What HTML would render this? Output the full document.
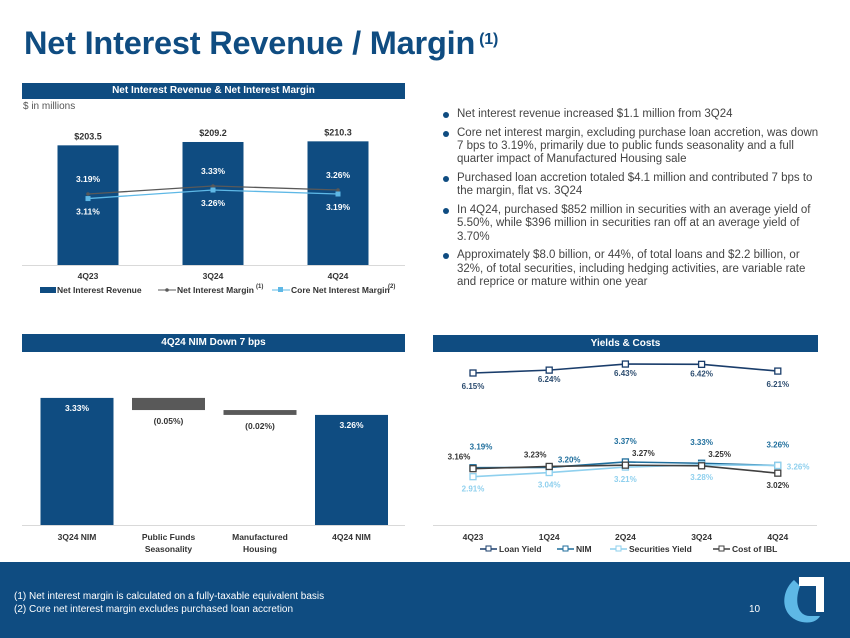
<!DOCTYPE html>
<html><head><meta charset="utf-8"><style>
body{margin:0;width:850px;height:638px;overflow:hidden;background:#fff;font-family:"Liberation Sans",Arial,sans-serif;position:relative}
.title{position:absolute;left:24px;top:25px;font-size:32.5px;font-weight:bold;color:#0f4c81;letter-spacing:-0.2px}
.title sup{font-size:16px;vertical-align:top;position:relative;top:6px;margin-left:4px}
.hdr{position:absolute;background:#0f4c81;color:#fff;font-weight:bold;font-size:10px;text-align:center;line-height:17px}
.bul{position:absolute;left:440px;top:108px;width:384px;font-size:11.5px;color:#444;line-height:13.4px}
.bul div{position:relative;padding-left:17px;margin-bottom:5.2px}
.bul div::before{content:"";position:absolute;left:3px;top:4px;width:6px;height:6px;border-radius:50%;background:#0f4c81}
.foot{position:absolute;left:0;top:562px;width:850px;height:76px;background:#0f4c81}
.fn{position:absolute;left:14px;font-size:10px;color:#fff}
svg text{font-family:"Liberation Sans",sans-serif}
</style></head><body>
<div class="title">Net Interest Revenue / Margin<sup>(1)</sup></div>
<div class="hdr" style="left:22px;top:83px;width:383px;height:16px;line-height:16px">Net Interest Revenue &amp; Net Interest Margin</div>
<div style="position:absolute;left:23px;top:101px;font-size:10px;color:#555">$ in millions</div>
<svg id="c1" style="position:absolute;left:0;top:0" width="420" height="300"></svg>

<div class="bul">
<div>Net interest revenue increased $1.1 million from 3Q24</div>
<div>Core net interest margin, excluding purchase loan accretion, was down 7 bps to 3.19%, primarily due to public funds seasonality and a full quarter impact of Manufactured Housing sale</div>
<div>Purchased loan accretion totaled $4.1 million and contributed 7 bps to the margin, flat vs. 3Q24</div>
<div>In 4Q24, purchased $852 million in securities with an average yield of 5.50%, while $396 million in securities ran off at an average yield of 3.70%</div>
<div>Approximately $8.0 billion, or 44%, of total loans and $2.2 billion, or 32%, of total securities, including hedging activities, are variable rate and reprice or mature within one year</div>
</div>

<div class="hdr" style="left:22px;top:334px;width:383px;height:18px">4Q24 NIM Down 7 bps</div>
<div class="hdr" style="left:433px;top:335px;width:385px;height:17px">Yields &amp; Costs</div>
<svg id="c2" style="position:absolute;left:0;top:350px" width="420" height="215"></svg>
<svg id="c3" style="position:absolute;left:425px;top:350px" width="420" height="215"></svg>

<div class="foot">
<div class="fn" style="top:29px">(1) Net interest margin is calculated on a fully-taxable equivalent basis</div>
<div class="fn" style="top:42px">(2) Core net interest margin excludes purchased loan accretion</div>
<div style="position:absolute;left:749px;top:42px;font-size:10px;color:#fff">10</div>
<svg style="position:absolute;left:780px;top:10px" width="50" height="55">
<path d="M14 8 C0 20 0 45 22 50 C32 52 38 48 40 44 L30 44 C18 44 14 30 20 14 Z" fill="#5eb8e6"/>
<path d="M19 5 L44 5 L44 40 L36 40 L36 14 L19 14 Z" fill="#fff"/>
</svg>
</div>

<script>
// Chart 1 data
const c1Cats=["4Q23","3Q24","4Q24"];
const c1Rev=[203.5,209.2,210.3];
const c1Nim=[3.19,3.33,3.26];
const c1Core=[3.11,3.26,3.19];
// Chart 2 data
const c2Cats=[["3Q24 NIM"],["Public Funds","Seasonality"],["Manufactured","Housing"],["4Q24 NIM"]];
const c2Start=3.33;
const c2Deltas=[-0.05,-0.02];
const c2End=3.26;
const c2Labels=["3.33%","(0.05%)","(0.02%)","3.26%"];
// Chart 3 data
const c3Cats=["4Q23","1Q24","2Q24","3Q24","4Q24"];
const c3Loan=[6.15,6.24,6.43,6.42,6.21];
const c3Nim=[3.19,3.20,3.37,3.33,3.26];
const c3Sec=[2.91,3.04,3.21,3.28,3.26];
const c3Ibl=[3.16,3.23,3.27,3.25,3.02];

const NS="http://www.w3.org/2000/svg";
function mk(p,t,a,txt){const e=document.createElementNS(NS,t);for(const k in a)e.setAttribute(k,a[k]);if(txt!==undefined)e.textContent=txt;p.appendChild(e);return e;}
const NAVY="#0f4c81",LB="#5eb8e6",GR="#595959";

// ---- chart 1
const s1=document.getElementById('c1');
const x1=i=>88+i*125, yb=v=>265-v*0.588, yl=v=>194-(v-3.19)*57;
mk(s1,'line',{x1:22,x2:405,y1:265.5,y2:265.5,stroke:'#d9d9d9'});
c1Rev.forEach((v,i)=>{
 let r=mk(s1,'rect',{x:x1(i)-30.5,y:yb(v),width:61,height:265-yb(v),fill:NAVY});
 
 mk(s1,'text',{x:x1(i),y:yb(v)-6,'text-anchor':'middle','font-size':9,'font-weight':'bold',fill:'#333'},'$'+v.toFixed(1));
 mk(s1,'text',{x:x1(i),y:279,'text-anchor':'middle','font-size':8.5,'font-weight':'bold',fill:'#333'},c1Cats[i]);
 mk(s1,'text',{x:x1(i),y:yl(c1Nim[i])-12,'text-anchor':'middle','font-size':8.5,'font-weight':'bold',fill:'#fff'},c1Nim[i].toFixed(2)+'%');
 mk(s1,'text',{x:x1(i),y:yl(c1Core[i])+16,'text-anchor':'middle','font-size':8.5,'font-weight':'bold',fill:'#fff'},c1Core[i].toFixed(2)+'%');
});
let p=mk(s1,'polyline',{points:c1Nim.map((v,i)=>x1(i)+','+yl(v)).join(' '),fill:'none',stroke:GR,'stroke-width':1.3});

c1Nim.forEach((v,i)=>mk(s1,'circle',{cx:x1(i),cy:yl(v),r:1.8,fill:GR}));
p=mk(s1,'polyline',{points:c1Core.map((v,i)=>x1(i)+','+yl(v)).join(' '),fill:'none',stroke:LB,'stroke-width':1.3});

c1Core.forEach((v,i)=>mk(s1,'rect',{x:x1(i)-2.5,y:yl(v)-2.5,width:5,height:5,fill:LB}));
// legend
let lg=mk(s1,'g',{});
mk(lg,'rect',{x:40,y:287,width:16,height:6,fill:NAVY});
mk(lg,'text',{x:57,y:293,'font-size':8.5,'font-weight':'bold',fill:'#333'},'Net Interest Revenue');
mk(lg,'line',{x1:158,x2:176,y1:290,y2:290,stroke:GR});mk(lg,'circle',{cx:167,cy:290,r:1.8,fill:GR});
mk(lg,'text',{x:177,y:293,'font-size':8.5,'font-weight':'bold',fill:'#333'},'Net Interest Margin');
mk(lg,'text',{x:256,y:288,'font-size':6,'font-weight':'bold',fill:'#333'},'(1)');
mk(lg,'line',{x1:272,x2:290,y1:290,y2:290,stroke:LB});mk(lg,'rect',{x:278,y:287,width:5,height:5,fill:LB});
mk(lg,'text',{x:291,y:293,'font-size':8.5,'font-weight':'bold',fill:'#333'},'Core Net Interest Margin');
mk(lg,'text',{x:388,y:288,'font-size':6,'font-weight':'bold',fill:'#333'},'(2)');

// ---- chart 2 (offset top 350)
const s2=document.getElementById('c2');
const x2=i=>77+i*91.5, y2=v=>175-(v-2.807)*243;
mk(s2,'line',{x1:22,x2:405,y1:175.5,y2:175.5,stroke:'#d9d9d9'});
let run=c2Start;
const vals=[c2Start,...c2Deltas,c2End];
vals.forEach((v,i)=>{
 let top,bot,col;
 if(i===0||i===vals.length-1){top=y2(v);bot=175;col=NAVY;}
 else{top=y2(run);bot=y2(run+v);run+=v;col=GR;}
 let r=mk(s2,'rect',{x:x2(i)-36.5,y:top,width:73,height:bot-top,fill:col});
 
 const inside=(i===0||i===vals.length-1);
 mk(s2,'text',{x:x2(i),y:inside?top+13:bot+14,'text-anchor':'middle','font-size':8.5,'font-weight':'bold',fill:inside?'#fff':'#333'},c2Labels[i]);
 c2Cats[i].forEach((l,j)=>mk(s2,'text',{x:x2(i),y:190+j*12,'text-anchor':'middle','font-size':8.5,'font-weight':'bold',fill:'#333'},l));
});

// ---- chart 3 (offset left 425, top 350)
const s3=document.getElementById('c3');
const x3=i=>48+i*76.2, y3=v=>23+(6.15-v)*32;
mk(s3,'line',{x1:8,x2:392,y1:175.5,y2:175.5,stroke:'#d9d9d9'});
c3Cats.forEach((c,i)=>mk(s3,'text',{x:x3(i),y:190,'text-anchor':'middle','font-size':8.5,'font-weight':'bold',fill:'#333'},c));
const series=[["loan-yield-line",c3Loan,"#1a3d6b","Loan Yield"],["nim-yield-line",c3Nim,"#1f6e9c","NIM"],["securities-yield-line",c3Sec,"#8fd0ee","Securities Yield"],["cost-ibl-line",c3Ibl,"#404040","Cost of IBL"]];
series.forEach(([nm,arr,col])=>{
 let g=mk(s3,'g',{});
 mk(g,'polyline',{points:arr.map((v,i)=>x3(i)+','+y3(v)).join(' '),fill:'none',stroke:col,'stroke-width':1.6});
 arr.forEach((v,i)=>mk(g,'rect',{x:x3(i)-3,y:y3(v)-3,width:6,height:6,fill:'#fff',stroke:col,'stroke-width':1.3}));
});
const lab=(x,y,t,c,a)=>mk(s3,'text',{x,y,'text-anchor':a||'middle','font-size':8,'font-weight':'bold',fill:c},t);
c3Loan.forEach((v,i)=>lab(x3(i),y3(v)+(i==0||i==4?16:12),v.toFixed(2)+'%',"#2d4d70"));
c3Nim.forEach((v,i)=>lab(x3(i)+(i==1?20:(i==0?8:0)),i==1?y3(v)-5:y3(v)-18,v.toFixed(2)+'%',"#1f6e9c"));
c3Sec.forEach((v,i)=>i==4?lab(x3(i)+9,y3(v)+4,v.toFixed(2)+'%',"#8fd0ee",'start'):lab(x3(i),y3(v)+15,v.toFixed(2)+'%',"#8fd0ee"));
c3Ibl.forEach((v,i)=>i==4?lab(x3(i),y3(v)+15,v.toFixed(2)+'%',"#333"):lab(x3(i)+(i==0?-14:(i==1?-14:18)),y3(v)-9,v.toFixed(2)+'%',"#333"));
let lg3=mk(s3,'g',{});
const lx=[55,132,185,288];
series.forEach(([nm,arr,col,t],k)=>{
 mk(lg3,'line',{x1:lx[k],x2:lx[k]+17,y1:199,y2:199,stroke:col,'stroke-width':1.6});
 mk(lg3,'rect',{x:lx[k]+6,y:196,width:5,height:5,fill:'#fff',stroke:col});
 mk(lg3,'text',{x:lx[k]+19,y:202,'font-size':8.5,'font-weight':'bold',fill:'#333'},t);
});
</script>
</body></html>
